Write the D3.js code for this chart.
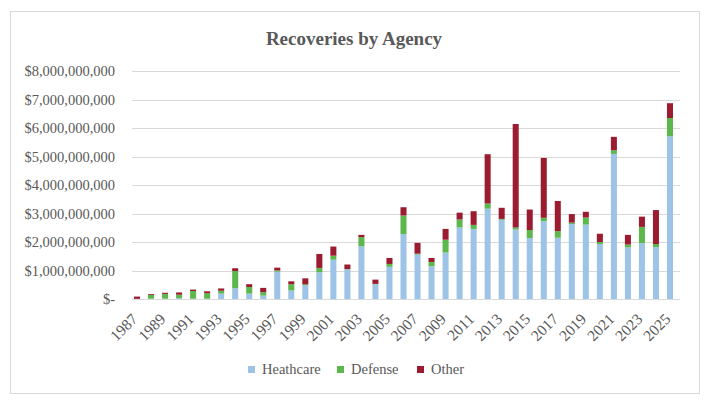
<!DOCTYPE html>
<html>
<head>
<meta charset="utf-8">
<script src="https://cdn.jsdelivr.net/npm/d3@7"></script>
<style>
  body { margin: 0; background: #fff; }
  svg text { font-family: "Liberation Serif", "Times New Roman", serif; }
  .grid line { stroke: #d9d9d9; stroke-width: 1; }
</style>
</head>
<body>
<svg id="chart" width="709" height="405"></svg>
<script>
// values in billions of dollars
const years = d3.range(1987, 2026).map(String);
const heathcare = [0, 0.01, 0.01, 0.03, 0.01, 0.01, 0.19, 0.38, 0.19, 0.12, 0.96, 0.3, 0.48, 0.94, 1.38, 1.04, 1.85, 0.52, 1.13, 2.28,
  1.56, 1.15, 1.63, 2.51, 2.46, 3.17, 2.78, 2.44, 2.14, 2.73, 2.15, 2.63, 2.61, 1.93, 5.09, 1.81, 1.96, 1.82, 5.71];
const defense = [0.005, 0.13, 0.17, 0.12, 0.27, 0.19, 0.1, 0.6, 0.23, 0.12, 0.04, 0.22, 0.035, 0.15, 0.14, 0.01, 0.32, 0.01, 0.1, 0.65,
  0.03, 0.15, 0.45, 0.28, 0.14, 0.18, 0.03, 0.07, 0.28, 0.12, 0.23, 0.05, 0.25, 0.07, 0.13, 0.1, 0.57, 0.11, 0.64];
const other = [0.08, 0.03, 0.04, 0.08, 0.05, 0.07, 0.08, 0.1, 0.1, 0.15, 0.1, 0.1, 0.21, 0.49, 0.32, 0.16, 0.08, 0.15, 0.21, 0.29,
  0.38, 0.14, 0.38, 0.24, 0.48, 1.73, 0.39, 3.63, 0.72, 2.1, 1.06, 0.3, 0.2, 0.29, 0.47, 0.34, 0.36, 1.19, 0.52];
const seriesNames = ["Heathcare", "Defense", "Other"];
const seriesColors = ["#9dc3e6", "#5cb84c", "#9b1b30"];
const yTicks = [0, 1, 2, 3, 4, 5, 6, 7, 8];

const svg = d3.select("#chart");

// outer frame
svg.append("rect")
  .attr("x", 10.5).attr("y", 11.5)
  .attr("width", 689).attr("height", 382)
  .attr("fill", "#fff").attr("stroke", "#d9d9d9");

const plotLeft = 130, plotRight = 677, plotTop = 71, plotBottom = 299;

let x = d3.scaleBand().domain(years).range([plotLeft, plotRight]).paddingInner(0.57).paddingOuter(0.285);
let y = d3.scaleLinear().domain([0, 8]).range([plotBottom, plotTop]);

// title
svg.append("text")
  .attr("x", 354).attr("y", 45)
  .attr("text-anchor", "middle")
  .attr("font-size", 19).attr("font-weight", "bold")
  .attr("fill", "#595959")
  .text("Recoveries by Agency");

// grid
svg.append("g").attr("class", "grid")
  .selectAll("line").data(yTicks).join("line")
  .attr("x1", plotLeft + 2).attr("x2", plotRight + 3)
  .attr("y1", d => Math.round(y(d)) + 0.5).attr("y2", d => Math.round(y(d)) + 0.5);

// y labels
svg.append("g")
  .selectAll("text").data(yTicks).join("text")
  .attr("x", 115).attr("y", d => y(d) + 5)
  .attr("text-anchor", "end")
  .attr("font-size", 14.5)
  .attr("fill", "#595959")
  .text(d => d === 0 ? "$-" : "$" + d3.format(",")(d * 1e9));

// stacked bars
const table = years.map((yr, i) => ({ year: yr, Heathcare: heathcare[i], Defense: defense[i], Other: other[i] }));
const stack = d3.stack().keys(seriesNames)(table);

svg.append("g")
  .selectAll("g").data(stack).join("g")
  .attr("fill", (d, i) => seriesColors[i])
  .selectAll("rect").data(d => d).join("rect")
  .attr("x", d => x(d.data.year))
  .attr("width", x.bandwidth())
  .attr("y", d => y(d[1]))
  .attr("height", d => Math.max(0, y(d[0]) - y(d[1])));

// x labels, every other year
svg.append("g")
  .selectAll("text").data(years.filter((d, i) => i % 2 === 0)).join("text")
  .attr("transform", d => "translate(" + (x(d) + x.bandwidth() / 2 + 1.5) + "," + (plotBottom + 21) + ") rotate(-45)")
  .attr("text-anchor", "end")
  .attr("font-size", 15.5)
  .attr("fill", "#595959")
  .text(d => d);

// legend
const legendX = [248, 337, 417];
const legend = svg.append("g").selectAll("g").data(seriesNames).join("g")
  .attr("transform", (d, i) => "translate(" + legendX[i] + ",366)");
legend.append("rect").attr("width", 7).attr("height", 7).attr("fill", (d, i) => seriesColors[i]);
legend.append("text")
  .attr("x", 14).attr("y", 8)
  .attr("font-size", 14.5)
  .attr("fill", "#595959")
  .text(d => d);
</script>
</body>
</html>
